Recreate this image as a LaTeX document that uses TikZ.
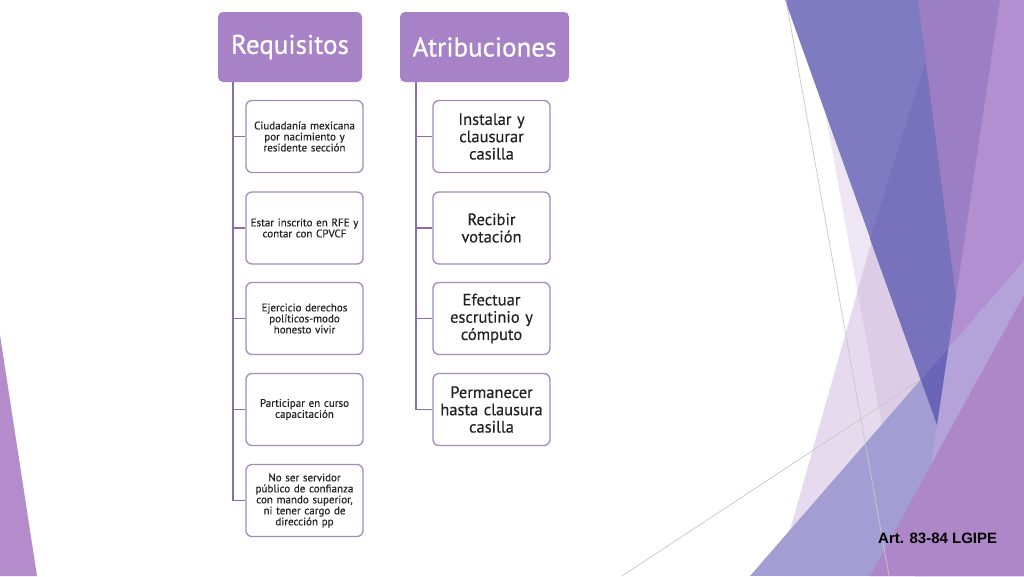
\documentclass[tikz,border=0pt]{standalone}
\usepackage{fontspec}
\setmainfont{PT Sans}[FakeBold=0.35]
\newfontfamily\hdrfont{PT Sans}[FakeBold=0.7]
\newfontfamily\arialfont{Liberation Sans}
\definecolor{hdr}{HTML}{A782C7}
\definecolor{bord}{HTML}{A58AC2}
\definecolor{connc}{HTML}{8C6CA9}
\definecolor{txt}{HTML}{222222}
\definecolor{lpur}{HTML}{B18FD0}
\definecolor{paleA}{HTML}{EEE6F4}
\definecolor{mlav}{HTML}{E6DAEE}
\definecolor{mover}{HTML}{DCCCE6}
\definecolor{bandblue}{HTML}{7F7BC1}
\definecolor{dblue}{HTML}{7872BD}
\definecolor{mpur}{HTML}{9C7EC4}
\definecolor{blav}{HTML}{A29ED4}
\definecolor{blavlp}{HTML}{B3A3D9}
\definecolor{blavb}{HTML}{6B65BA}
\definecolor{bpur}{HTML}{AD87C7}
\definecolor{leftpur}{HTML}{B48CCB}
\definecolor{thinline}{HTML}{C8C8C8}
\begin{document}
\begin{tikzpicture}[x=1pt,y=-1pt,
  hdrbox/.style={draw=none, fill=hdr, rounded corners=5pt, minimum height=70pt,
    text=white, font=\hdrfont\fontsize{27}{30}\selectfont, inner sep=0pt},
  smallbox/.style={draw=bord, line width=1.3pt, fill=white, rounded corners=6pt,
    minimum width=117pt, minimum height=72pt, text width=112pt, align=center,
    inner sep=0pt, font=\fontsize{11}{11}\selectfont, text=txt},
  bigbox/.style={smallbox, font=\fontsize{16.5}{17.3}\selectfont},
  conn/.style={draw=connc, line width=1.8pt},
  thin/.style={draw=thinline, line width=0.7pt}]
\useasboundingbox (0,0) rectangle (1024,576);
\fill[white] (0,0) rectangle (1024,576);

% ---- decoration, right side ----
\fill[paleA] (805,0) -- (930,0) -- (935,400) -- (909,576) -- cycle;
\fill[mlav] (777,576) -- (876,226) -- (935,400) -- (935,576) -- cycle;
\begin{scope}
  \clip (805,0) -- (930,0) -- (935,400) -- (909,576) -- cycle;
  \fill[mover] (777,576) -- (876,226) -- (935,400) -- (935,576) -- cycle;
\end{scope}
\fill[lpur] (1000,0) -- (1024,0) -- (1024,576) -- (915,576) -- (937,425) -- cycle;
\fill[bandblue] (785,0) -- (1000,0) -- (937,425) -- cycle;
\fill[dblue] (927,57) -- (956,297) -- (937,425) -- (870,239) -- cycle;
\fill[mpur] (918,0) -- (1000,0) -- (956,297) -- cycle;
\begin{scope}
  \clip (750,576) -- (1024,261) -- (1024,576) -- cycle;
  \fill[blav] (700,200) rectangle (1024,576);
  \fill[blavlp] (1000,0) -- (1024,0) -- (1024,576) -- (915,576) -- (937,425) -- cycle;
  \fill[blavb] (785,0) -- (1000,0) -- (937,425) -- cycle;
\end{scope}
\fill[bpur] (870,576) -- (1024,295) -- (1024,576) -- cycle;
\draw[thin] (786,0) -- (889,576);
\draw[thin] (622,576) -- (920,380);

% ---- decoration, left side ----
\fill[leftpur] (0,335) -- (0,576) -- (37,576) -- cycle;

% ---- headers ----
\node[hdrbox, minimum width=144pt] (req) at (290,47) {Requisitos};
\node[hdrbox, minimum width=169pt] (atr) at (484.5,47) {Atribuciones};

% ---- Requisitos children ----
\node[smallbox] (r1) at (304.5,136.5) {Ciudadanía mexicana\\por nacimiento y\\residente sección};
\node[smallbox] (r2) at (304.5,228) {Estar inscrito en RFE y\\contar con CPVCF};
\node[smallbox] (r3) at (304.5,318.5) {Ejercicio derechos\\políticos-modo\\honesto vivir};
\node[smallbox] (r4) at (304.5,409.5) {Participar en curso\\capacitación};
\node[smallbox] (r5) at (304.5,500.5) {No ser servidor\\público de confianza\\con mando superior,\\ni tener cargo de\\dirección pp};

% ---- Atribuciones children ----
\node[bigbox] (a1) at (491.5,136.5) {Instalar y\\clausurar\\casilla};
\node[bigbox] (a2) at (491.5,228) {Recibir\\votación};
\node[bigbox] (a3) at (491.5,318.5) {Efectuar\\escrutinio y\\cómputo};
\node[bigbox] (a4) at (491.5,409.5) {Permanecer\\hasta clausura\\casilla};

% ---- connectors ----
\foreach \i in {1,...,5} \draw[conn] ([xshift=-57pt]req.south) |- (r\i.west);
\foreach \i in {1,...,4} \draw[conn] ([xshift=-68.5pt]atr.south) |- (a\i.west);

% ---- footer ----
\node[anchor=base west, inner sep=0pt, font=\arialfont\bfseries\fontsize{15}{18}\selectfont, text=black] (art) at (878,543) {Art. 83-84 LGIPE};
\end{tikzpicture}
\end{document}
